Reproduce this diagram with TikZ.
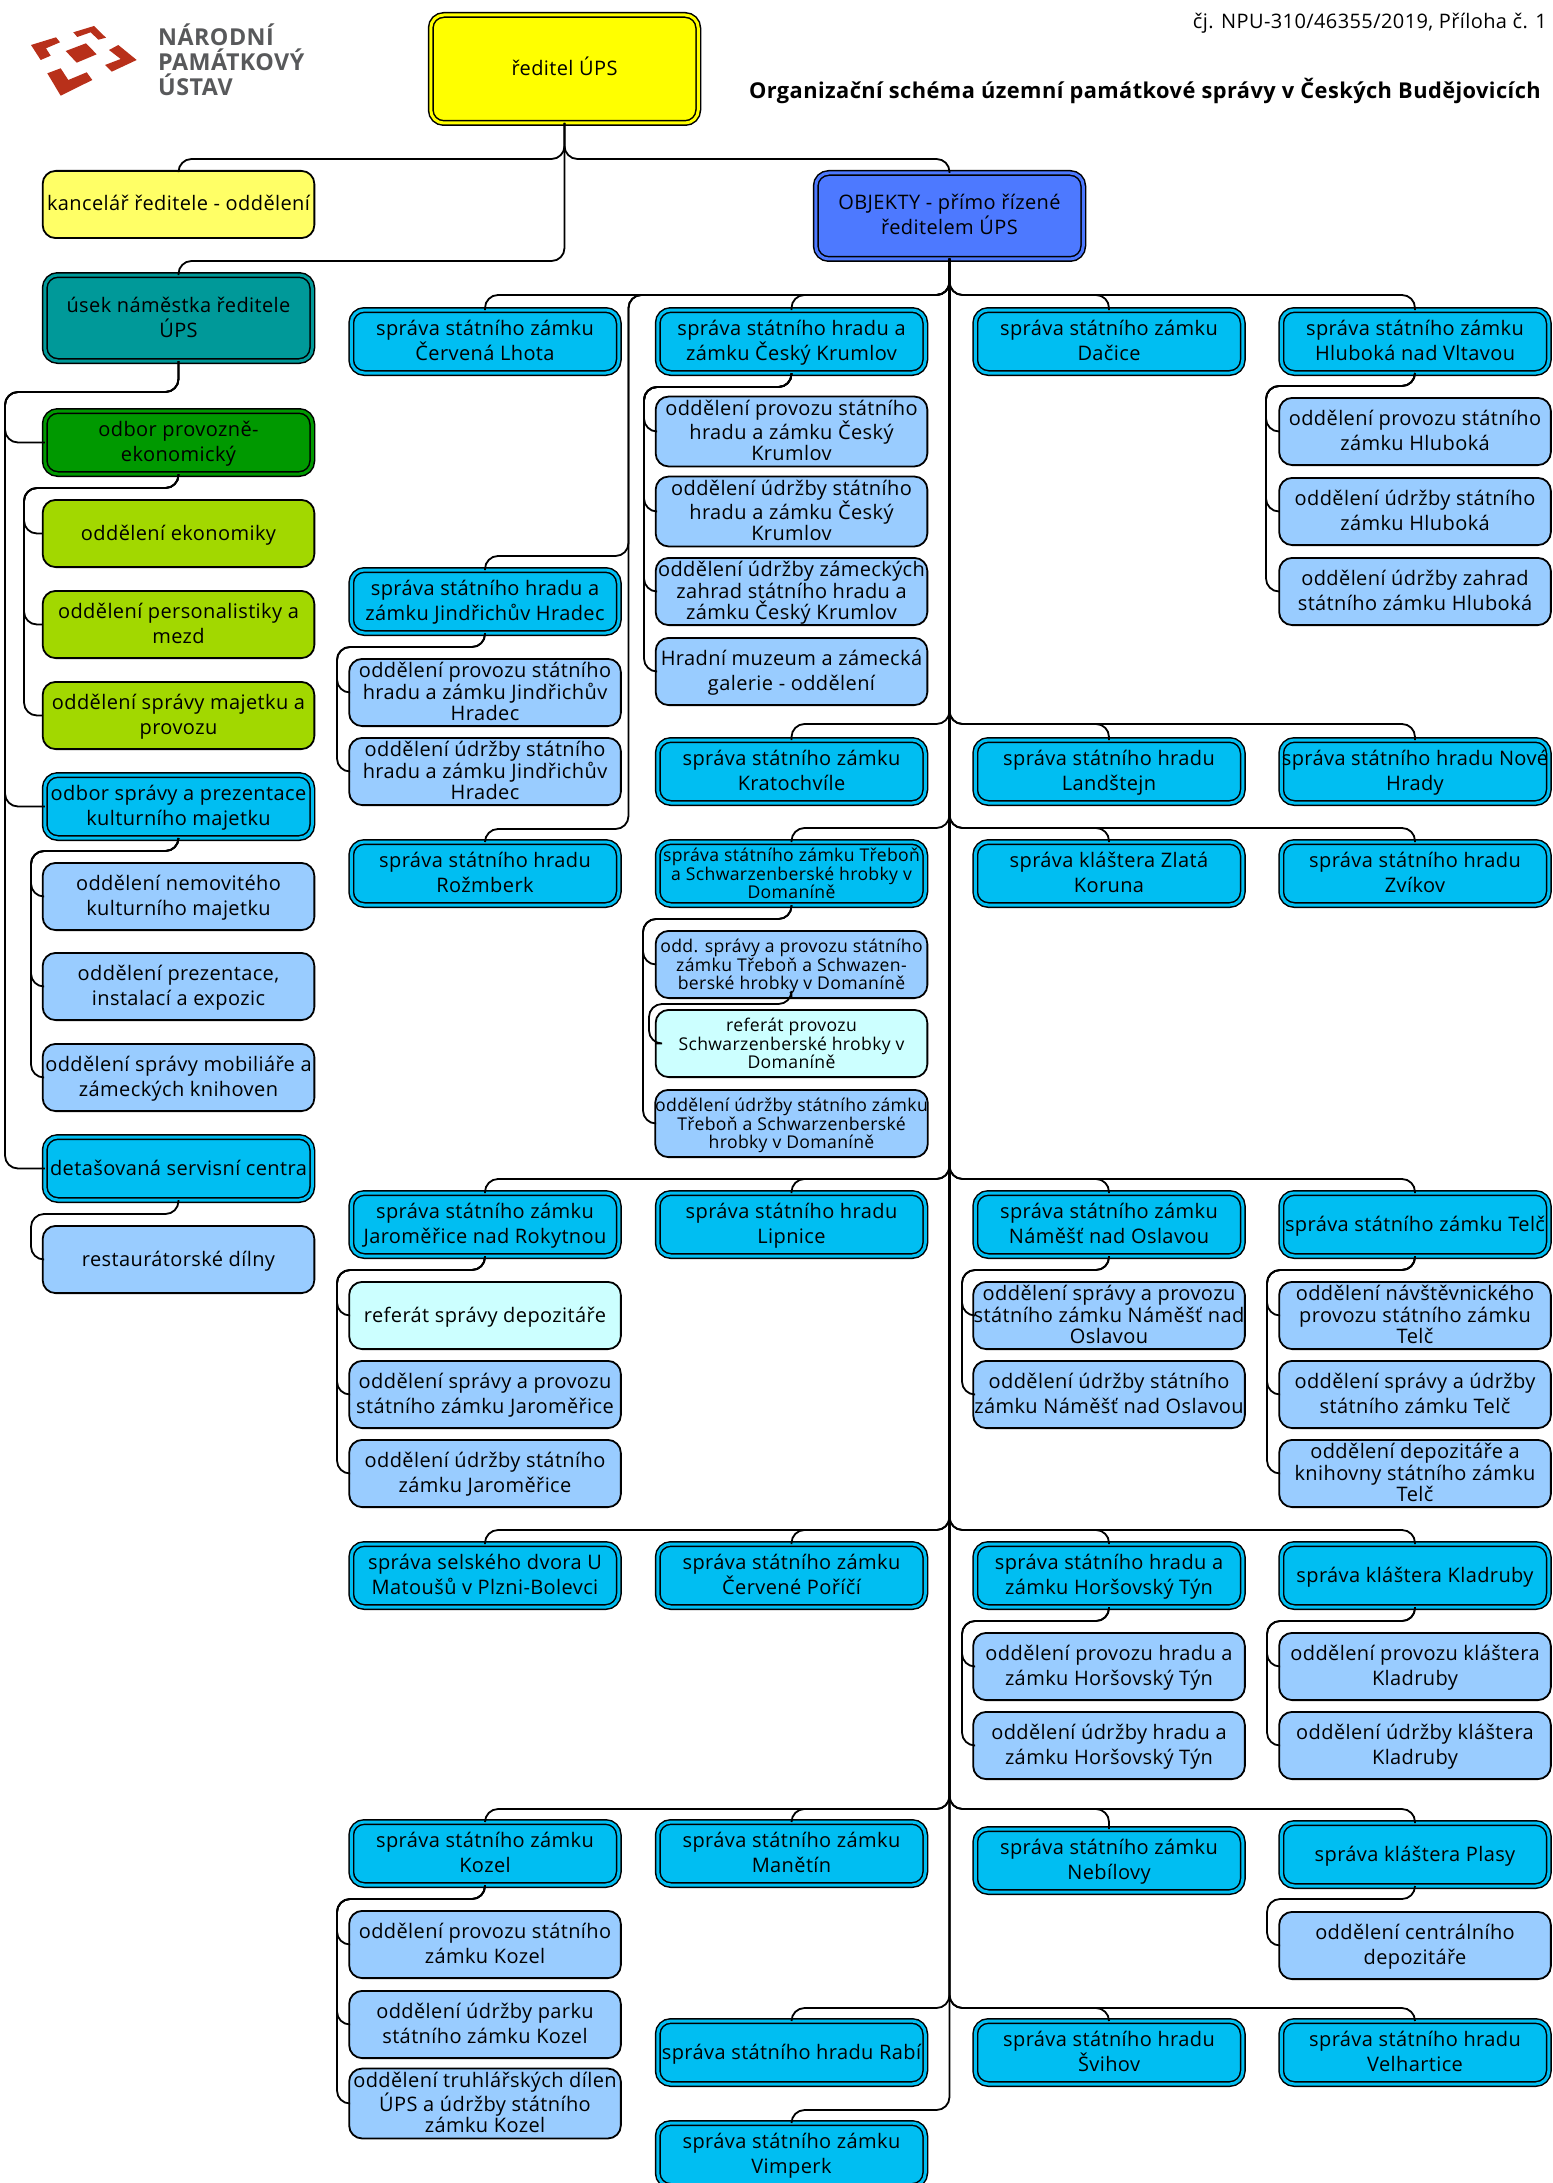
\documentclass[tikz,border=0pt]{standalone}
\usepackage{fontspec}
\setmainfont[LetterSpace=2]{Open Sans}
\usetikzlibrary{calc}
\definecolor{cYel}{HTML}{FFFF00}
\definecolor{cLYel}{HTML}{FFFF66}
\definecolor{cTeal}{HTML}{009999}
\definecolor{cGreen}{HTML}{009900}
\definecolor{cLime}{HTML}{A2D800}
\definecolor{cCyan}{HTML}{00BEF2}
\definecolor{cLBlue}{HTML}{99CCFF}
\definecolor{cPale}{HTML}{CCFFFF}
\definecolor{cBlue}{HTML}{4D79FF}
\definecolor{cLogo}{HTML}{B8301A}
\definecolor{cLogoT}{HTML}{58595B}
\newcommand\fN{\fontsize{20}{25}\selectfont}
\newcommand\fM{\fontsize{20}{21.5}\selectfont}
\newcommand\fS{\fontsize{17.6}{18.3}\selectfont}
% invisible struts: fix the block height so that every text sits alike in its box
\newcommand\TopS{\rule{0pt}{18.5pt}}
\newcommand\BotS{\rule[-5.5pt]{0pt}{5.5pt}}
\tikzset{
  bx/.style={rounded corners=13pt,align=center,inner sep=0pt,outer sep=0pt,text=black,font=\fN},
  sg/.style={bx,draw=black,line width=1.8pt,fill=#1,minimum width=271.7pt},
  db/.style={bx,draw=black,line width=1.5pt,double=#1,double distance=3pt,fill=#1,minimum width=267.5pt},
  med/.style={font=\fM},
  sml/.style={font=\fS},
  conn/.style={draw=black,line width=1.8pt,rounded corners=13pt},
  lg/.style={fill=cLogo,draw=none},
  lgt/.style={anchor=west,inner sep=0pt,text=cLogoT,font=\fontsize{23.3}{25}\selectfont\bfseries},
}
% [extra], colour, name, left, top, height, text
\newcommand\SB[7][]{\node[sg=#2,#1] (#3) at ({#4+136.5},{#5+#6/2}) [minimum height={(#6)-1.8pt}] {\TopS#7\BotS};}
\newcommand\DB[7][]{\node[db=#2,#1] (#3) at ({#4+136.5},{#5+#6/2}) [minimum height={(#6)-6pt}] {\TopS#7\BotS};}
% parent, child, bus y
\newcommand\DN[3]{\path (0,#3) coordinate (cB); \draw[conn] (#1.south) -- (#1.south |- cB) -- (#2.north |- cB) -- (#2.north);}
% parent, child, bus y via rail
\newcommand\DR[3]{\path (628.5,295) coordinate (cR) (0,#3) coordinate (cB); \draw[conn] (#1.south) -- (#1.south |- cR) -- (cR) -- (cR |- cB) -- (#2.north |- cB) -- (#2.north);}
% parent, child, bus y, rail x
\newcommand\SD[4]{\path (#4,#3) coordinate (cB); \draw[conn] (#1.south) -- (#1.south |- cB) -- (cB) -- (cB |- #2.west) -- (#2.west);}
\begin{document}
\begin{tikzpicture}[x=1pt,y=-1pt]
\useasboundingbox (0,0) rectangle (1552,2183);
% logo
\fill[lg] (65.7,51) -- (86,43.3) -- (96.7,54.3) -- (76.7,62.7) -- cycle;
\fill[lg] (73.3,32.3) -- (94,26) -- (106,37.7) -- (98.3,39.7) -- (90.7,32.3) -- (77.3,37) -- cycle;
\fill[lg] (31,45) -- (56,37.3) -- (60,42.3) -- (46,48.3) -- (50.7,55.7) -- (40.7,60) -- cycle;
\fill[lg] (118.3,45) -- (136.7,60) -- (111.7,71.7) -- (105,65) -- (120.7,59) -- (109,50) -- cycle;
\fill[lg] (47.3,73.3) -- (60.7,68.3) -- (68.3,80) -- (86.7,72.3) -- (92.3,80) -- (60.7,95.7) -- cycle;
\node[lgt] (lA) at (158,35) {NÁRODNÍ};
\node[lgt] (lB) at (158,60) {PAMÁTKOVÝ};
\node[lgt] (lC) at (158,85) {ÚSTAV};
% titles
\node[anchor=east,inner sep=0pt,font=\fontsize{20}{22}\selectfont] (ref) at (1547,23) {čj. NPU-310/46355/2019, Příloha č. 1};
\node[anchor=east,inner sep=0pt,font=\fontsize{21.8}{25}\selectfont\bfseries] (title) at (1541,91) {Organizační schéma územní památkové správy v Českých Budějovicích};
% top
\DB{cYel}{dir}{428}{12}{114}{ředitel ÚPS}
\SB{cLYel}{kanc}{42}{170}{69}{kancelář ředitele - oddělení}
\DB{cBlue}{obj}{813}{170}{92}{OBJEKTY - přímo řízené\\ředitelem ÚPS}
\DB{cTeal}{usek}{42}{272}{92}{úsek náměstka ředitele\\ÚPS}
% left column
\DB{cGreen}{ope}{42}{408}{69}{odbor provozně-\\ekonomický}
\SB{cLime}{oek}{42}{499}{69}{oddělení ekonomiky}
\SB{cLime}{ops}{42}{590}{69}{oddělení personalistiky a\\mezd}
\SB{cLime}{osm}{42}{681}{69}{oddělení správy majetku a\\provozu}
\DB{cCyan}{osp}{42}{772}{69}{odbor správy a prezentace\\kulturního majetku}
\SB{cLBlue}{onk}{42}{862}{69}{oddělení nemovitého\\kulturního majetku}
\SB{cLBlue}{opi}{42}{952}{69}{oddělení prezentace,\\instalací a expozic}
\SB{cLBlue}{osk}{42}{1043}{69}{oddělení správy mobiliáře a\\zámeckých knihoven}
\DB{cCyan}{dsc}{42}{1134}{69}{detašovaná servisní centra}
\SB{cLBlue}{rd}{42}{1225}{69}{restaurátorské dílny}
% row 1
\DB{cCyan}{a1}{348.5}{307}{69}{správa státního zámku\\Červená Lhota}
\DB{cCyan}{a2}{655}{307}{69}{správa státního hradu a\\zámku Český Krumlov}
\DB{cCyan}{a3}{972.5}{307}{69}{správa státního zámku\\Dačice}
\DB{cCyan}{a4}{1278.5}{307}{69}{správa státního zámku\\Hluboká nad Vltavou}
\SB[med]{cLBlue}{a2a}{655}{397}{69}{oddělení provozu státního\\hradu a zámku Český\\Krumlov}
\SB[med]{cLBlue}{a2b}{655}{477}{69}{oddělení údržby státního\\hradu a zámku Český\\Krumlov}
\SB[med]{cLBlue}{a2c}{655}{557}{69}{oddělení údržby zámeckých\\zahrad státního hradu a\\zámku Český Krumlov}
\SB{cLBlue}{a2d}{655}{637}{69}{Hradní muzeum a zámecká\\galerie - oddělení}
\SB{cLBlue}{a4a}{1278.5}{397}{69}{oddělení provozu státního\\zámku Hluboká}
\SB{cLBlue}{a4b}{1278.5}{477}{69}{oddělení údržby státního\\zámku Hluboká}
\SB{cLBlue}{a4c}{1278.5}{557}{69}{oddělení údržby zahrad\\státního zámku Hluboká}
% JH
\DB{cCyan}{j}{348.5}{567}{69}{správa státního hradu a\\zámku Jindřichův Hradec}
\SB[med]{cLBlue}{ja}{348.5}{658}{69}{oddělení provozu státního\\hradu a zámku Jindřichův\\Hradec}
\SB[med]{cLBlue}{jb}{348.5}{737}{69}{oddělení údržby státního\\hradu a zámku Jindřichův\\Hradec}
\DB{cCyan}{rz}{348.5}{839}{69}{správa státního hradu\\Rožmberk}
% row 2
\DB{cCyan}{b2}{655}{737}{69}{správa státního zámku\\Kratochvíle}
\DB{cCyan}{b3}{972.5}{737}{69}{správa státního hradu\\Landštejn}
\DB{cCyan}{b4}{1278.5}{737}{69}{správa státního hradu Nové\\Hrady}
% row 3
\DB[sml]{cCyan}{c2}{655}{839}{69}{správa státního zámku Třeboň\\a Schwarzenberské hrobky v\\Domaníně}
\DB{cCyan}{c3}{972.5}{839}{69}{správa kláštera Zlatá\\Koruna}
\DB{cCyan}{c4}{1278.5}{839}{69}{správa státního hradu\\Zvíkov}
\SB[sml]{cLBlue}{c2a}{655}{930}{69}{odd. správy a provozu státního\\zámku Třeboň a Schwazen-\\berské hrobky v Domaníně}
\SB[sml]{cPale}{c2r}{655}{1009}{69}{referát provozu\\Schwarzenberské hrobky v\\Domaníně}
\SB[sml]{cLBlue}{c2b}{655}{1089}{69}{oddělení údržby státního zámku\\Třeboň a Schwarzenberské\\hrobky v Domaníně}
% row 4
\DB{cCyan}{d1}{348.5}{1190}{69}{správa státního zámku\\Jaroměřice nad Rokytnou}
\DB{cCyan}{d2}{655}{1190}{69}{správa státního hradu\\Lipnice}
\DB{cCyan}{d3}{972.5}{1190}{69}{správa státního zámku\\Náměšť nad Oslavou}
\DB{cCyan}{d4}{1278.5}{1190}{69}{správa státního zámku Telč}
\SB{cPale}{d1r}{348.5}{1281}{69}{referát správy depozitáře}
\SB{cLBlue}{d1a}{348.5}{1360}{69}{oddělení správy a provozu\\státního zámku Jaroměřice}
\SB{cLBlue}{d1b}{348.5}{1439}{69}{oddělení údržby státního\\zámku Jaroměřice}
\SB[med]{cLBlue}{d3a}{972.5}{1281}{69}{oddělení správy a provozu\\státního zámku Náměšť nad\\Oslavou}
\SB{cLBlue}{d3b}{972.5}{1360}{69}{oddělení údržby státního\\zámku Náměšť nad Oslavou}
\SB[med]{cLBlue}{d4a}{1278.5}{1281}{69}{oddělení návštěvnického\\provozu státního zámku\\Telč}
\SB{cLBlue}{d4b}{1278.5}{1360}{69}{oddělení správy a údržby\\státního zámku Telč}
\SB[med]{cLBlue}{d4c}{1278.5}{1439}{69}{oddělení depozitáře a\\knihovny státního zámku\\Telč}
% row 5
\DB{cCyan}{e1}{348.5}{1541}{69}{správa selského dvora U\\Matoušů v Plzni-Bolevci}
\DB{cCyan}{e2}{655}{1541}{69}{správa státního zámku\\Červené Poříčí}
\DB{cCyan}{e3}{972.5}{1541}{69}{správa státního hradu a\\zámku Horšovský Týn}
\DB{cCyan}{e4}{1278.5}{1541}{69}{správa kláštera Kladruby}
\SB{cLBlue}{e3a}{972.5}{1632}{69}{oddělení provozu hradu a\\zámku Horšovský Týn}
\SB{cLBlue}{e3b}{972.5}{1711}{69}{oddělení údržby hradu a\\zámku Horšovský Týn}
\SB{cLBlue}{e4a}{1278.5}{1632}{69}{oddělení provozu kláštera\\Kladruby}
\SB{cLBlue}{e4b}{1278.5}{1711}{69}{oddělení údržby kláštera\\Kladruby}
% row 6
\DB{cCyan}{f1}{348.5}{1819}{69}{správa státního zámku\\Kozel}
\DB{cCyan}{f2}{655}{1819}{69}{správa státního zámku\\Manětín}
\DB{cCyan}{f3}{972.5}{1826}{69}{správa státního zámku\\Nebílovy}
\DB{cCyan}{f4}{1278.5}{1820}{69}{správa kláštera Plasy}
\SB{cLBlue}{f1a}{348.5}{1910}{69}{oddělení provozu státního\\zámku Kozel}
\SB{cLBlue}{f1b}{348.5}{1990}{69}{oddělení údržby parku\\státního zámku Kozel}
\SB[med]{cLBlue}{f1c}{348.5}{2069}{69}{oddělení truhlářských dílen\\ÚPS a údržby státního\\zámku Kozel}
\SB{cLBlue}{f4a}{1278.5}{1911}{69}{oddělení centrálního\\depozitáře}
% row 7
\DB{cCyan}{g2}{655}{2018}{69}{správa státního hradu Rabí}
\DB{cCyan}{g3}{972.5}{2018}{69}{správa státního hradu\\Švihov}
\DB{cCyan}{g4}{1278.5}{2018}{69}{správa státního hradu\\Velhartice}
\DB{cCyan}{v}{655}{2120}{69}{správa státního zámku\\Vimperk}
% connectors top
\DN{dir}{kanc}{159}
\DN{dir}{obj}{159}
\DN{dir}{usek}{261}
% left
\SD{usek}{ope}{392}{5}
\SD{usek}{osp}{392}{5}
\SD{usek}{dsc}{392}{5}
\SD{ope}{oek}{488}{24}
\SD{ope}{ops}{488}{24}
\SD{ope}{osm}{488}{24}
\SD{osp}{onk}{851}{31}
\SD{osp}{opi}{851}{31}
\SD{osp}{osk}{851}{31}
\SD{dsc}{rd}{1214}{31}
% object buses
\foreach \t in {a1,a2,a3,a4}{\DN{obj}{\t}{295}}
\DR{obj}{j}{556}
\DR{obj}{rz}{829}
\foreach \t in {b2,b3,b4}{\DN{obj}{\t}{724}}
\foreach \t in {c2,c3,c4}{\DN{obj}{\t}{828}}
\foreach \t in {d1,d2,d3,d4}{\DN{obj}{\t}{1179}}
\foreach \t in {e1,e2,e3,e4}{\DN{obj}{\t}{1530}}
\foreach \t in {f1,f2,f3,f4}{\DN{obj}{\t}{1809}}
\foreach \t in {g2,g3,g4}{\DN{obj}{\t}{2008}}
\DN{obj}{v}{2110}
% children
\foreach \c in {a2a,a2b,a2c,a2d}{\SD{a2}{\c}{387}{644}}
\foreach \c in {a4a,a4b,a4c}{\SD{a4}{\c}{386}{1266}}
\foreach \c in {ja,jb}{\SD{j}{\c}{647}{337}}
\foreach \c in {c2a,c2b}{\SD{c2}{\c}{919}{643}}
\SD{c2a}{c2r}{1004}{649}
\foreach \c in {d1r,d1a,d1b}{\SD{d1}{\c}{1270}{337}}
\foreach \c in {d3a,d3b}{\SD{d3}{\c}{1270}{962}}
\foreach \c in {d4a,d4b,d4c}{\SD{d4}{\c}{1270}{1267}}
\foreach \c in {e3a,e3b}{\SD{e3}{\c}{1621}{962}}
\foreach \c in {e4a,e4b}{\SD{e4}{\c}{1621}{1267}}
\foreach \c in {f1a,f1b,f1c}{\SD{f1}{\c}{1899}{337}}
\SD{f4}{f4a}{1899}{1267}
\end{tikzpicture}
\end{document}
